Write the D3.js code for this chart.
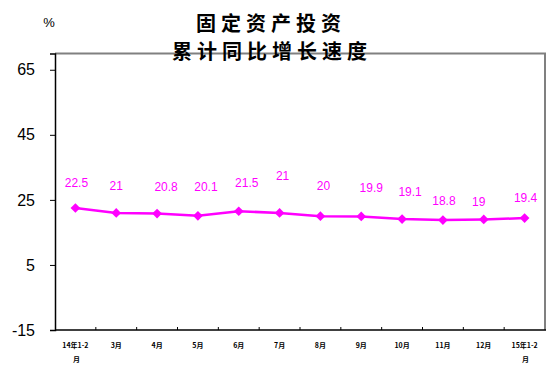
<!DOCTYPE html>
<html lang="zh">
<head>
  <meta charset="UTF-8">
  <title>固定资产投资累计同比增长速度</title>
  <script src="https://d3js.org/d3.v7.min.js"></script>
  <style>
    body { margin: 0; background: #fff; }
    svg { display: block; }
    .title { font-family: "Noto Sans CJK SC", sans-serif; font-weight: bold; font-size: 20px; fill: #000; letter-spacing: 5px; }
    .ytick { font-family: Arial, "Liberation Sans", sans-serif; font-size: 16px; fill: #000; }
    .xtick { font-family: "Noto Sans CJK SC", sans-serif; font-size: 7px; font-weight: bold; fill: #000; }
    .vlabel { font-family: Arial, "Liberation Sans", sans-serif; font-size: 12px; fill: #ff00ff; }
  </style>
</head>
<body>
  <svg width="555" height="377"></svg>
  <script>
    // data
    const categories = ["14年1-2月", "3月", "4月", "5月", "6月", "7月", "8月", "9月", "10月", "11月", "12月", "15年1-2月"];
    const growth = [22.5, 21, 20.8, 20.1, 21.5, 21, 20, 19.9, 19.1, 18.8, 19, 19.4];
    const yTicks = [-15, 5, 25, 45, 65];

    // hand-placed label nudges (px) as in the original
    const labelDx = [1, 0, 9, 8, 8, 3, 3, 10, 8, 1, -5, 1];
    const labelDy = [-26, -27, -27, -29, -29, -37, -31, -29, -28, -20, -18, -21];

    const svg = d3.select("svg");
    const plotL = 55, plotR = 545, plotT = 53.5, plotB = 330;

    const x = d3.scaleBand().domain(categories).range([plotL, plotR]);
    const y = d3.scaleLinear().domain([-15, 70]).range([plotB, plotT]);

    // frame: gray top and right
    svg.append("path")
      .attr("d", `M${plotL},${plotT}H${plotR}V${plotB}`)
      .attr("fill", "none")
      .attr("stroke", "#808080")
      .attr("stroke-width", 2);

    // y axis
    const yAxis = svg.append("g").attr("transform", `translate(${plotL},0)`)
      .call(d3.axisLeft(y).tickValues(yTicks).tickSize(5).tickPadding(15).tickFormat(d => String(d)));
    yAxis.select(".domain").attr("stroke", "#000").attr("stroke-width", 1.5);
    yAxis.selectAll(".tick line").attr("stroke", "#000");
    yAxis.selectAll(".tick text").attr("class", "ytick");
    yAxis.attr("font-family", null).attr("font-size", null);

    // x axis: ticks at band boundaries, pointing up
    const xAxis = svg.append("g");
    xAxis.append("line")
      .attr("x1", plotL).attr("x2", plotR + 1)
      .attr("y1", plotB).attr("y2", plotB)
      .attr("stroke", "#000").attr("stroke-width", 1.5);
    xAxis.selectAll(".xt")
      .data(categories.slice(1))
      .enter().append("line")
      .attr("x1", d => x(d)).attr("x2", d => x(d))
      .attr("y1", plotB).attr("y2", plotB - 3)
      .attr("stroke", "#000");

    const xl = xAxis.selectAll(".xtick")
      .data(categories)
      .enter().append("text")
      .attr("class", "xtick")
      .attr("text-anchor", "middle")
      .attr("x", d => x(d) + x.bandwidth() / 2)
      .attr("y", 348);
    xl.each(function(d) {
      const t = d3.select(this);
      if (d.length > 4) {
        t.append("tspan").attr("x", t.attr("x")).text(d.slice(0, -1));
        t.append("tspan").attr("x", +t.attr("x") + 1).attr("dy", 14).text(d.slice(-1));
      } else {
        t.text(d);
      }
    });

    // series line
    const cx = (d, i) => x(categories[i]) + x.bandwidth() / 2;
    svg.append("path")
      .datum(growth)
      .attr("fill", "none")
      .attr("stroke", "#ff00ff")
      .attr("stroke-width", 2.5)
      .attr("d", d3.line().x(cx).y(d => y(d)));

    // diamond markers
    svg.selectAll(".pt")
      .data(growth)
      .enter().append("path")
      .attr("d", d3.symbol(d3.symbolDiamond2, 60))
      .attr("transform", (d, i) => `translate(${cx(d, i)},${y(d)})`)
      .attr("fill", "#ff00ff");

    // value labels
    svg.selectAll(".vlabel")
      .data(growth)
      .enter().append("text")
      .attr("class", "vlabel")
      .attr("text-anchor", "middle")
      .attr("x", (d, i) => cx(d, i) + labelDx[i])
      .attr("y", (d, i) => y(d) + labelDy[i] + 4.5)
      .text(d => d);

    // unit
    svg.append("text")
      .attr("x", 49).attr("y", 27)
      .attr("text-anchor", "middle")
      .attr("font-family", "Arial, sans-serif")
      .attr("font-size", 13)
      .text("%");

    // title (drawn over the frame)
    const title = svg.append("text").attr("class", "title").attr("text-anchor", "middle");
    title.append("tspan").attr("x", 271).attr("y", 31).text("固定资产投资");
    title.append("tspan").attr("x", 272).attr("y", 59).text("累计同比增长速度");
  </script>
</body>
</html>
